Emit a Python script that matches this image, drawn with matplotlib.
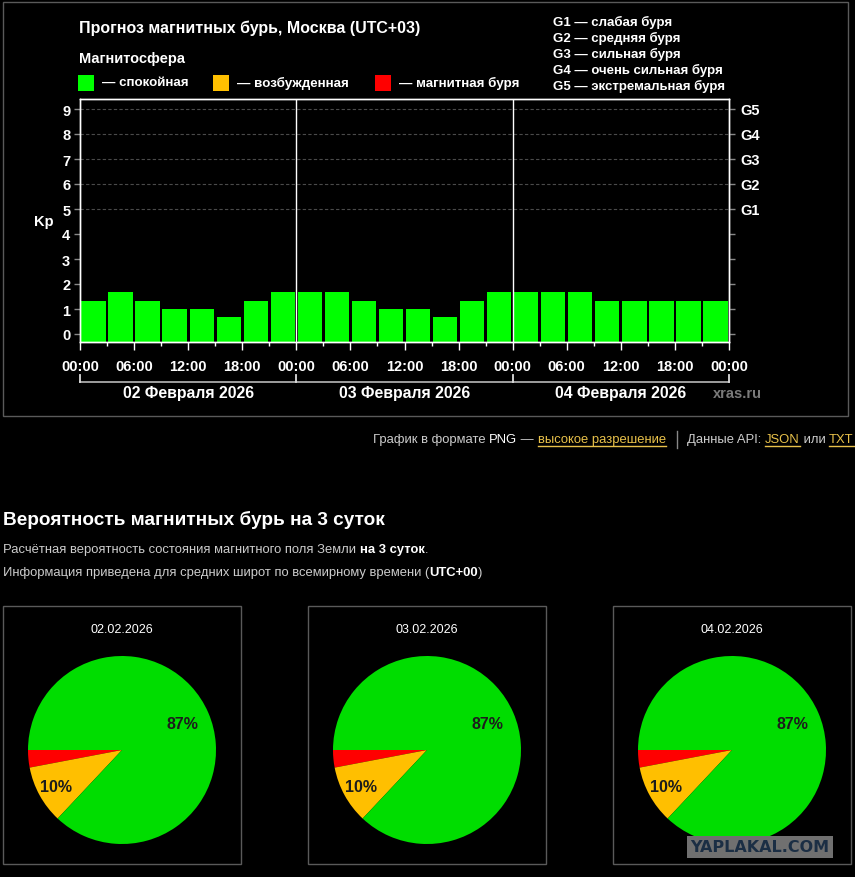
import matplotlib
matplotlib.use('Agg')
import matplotlib.pyplot as plt
from matplotlib.patches import Rectangle
from matplotlib.lines import Line2D
import matplotlib.transforms as mtransforms
import numpy as np

# ---------------- data ----------------
kp_values = [1.33, 1.67, 1.33, 1.0, 1.0, 0.67, 1.33, 1.67,
             1.67, 1.67, 1.33, 1.0, 1.0, 0.67, 1.33, 1.67,
             1.67, 1.67, 1.67, 1.33, 1.33, 1.33, 1.33, 1.33]
slot_hours = 3
time_tick_labels = ["00:00", "06:00", "12:00", "18:00"] * 3 + ["00:00"]
day_labels = ["02 Февраля 2026", "03 Февраля 2026", "04 Февраля 2026"]
kp_ticks = list(range(10))
g_labels = ["G1", "G2", "G3", "G4", "G5"]
g_descriptions = ["G1 — слабая буря", "G2 — средняя буря", "G3 — сильная буря",
                  "G4 — очень сильная буря", "G5 — экстремальная буря"]
legend_labels = ["— спокойная", "— возбужденная", "— магнитная буря"]
legend_colors = ["#00ff00", "#ffc000", "#ff0000"]
pie_dates = ["02.02.2026", "03.02.2026", "04.02.2026"]
prob_quiet = [87, 87, 87]
prob_active = [10, 10, 10]
prob_storm = [3, 3, 3]

plt.rcParams['font.family'] = ['Liberation Sans', 'DejaVu Sans']

W, H = 855, 878
fig = plt.figure(figsize=(W / 100, H / 100), dpi=100, facecolor='black')


def fx(x):
    return x / W


def fy(y):
    return 1 - y / H


def ptext(x, y, s, **kw):
    kw.setdefault('color', 'white')
    return fig.text(fx(x), fy(y), s, **kw)


renderer = fig.canvas.get_renderer()


def twidth(t):
    return t.get_window_extent(renderer).width


def segments(x, y, parts, size):
    """parts: list of (text, color, weight, underline)"""
    for s, c, w, ul in parts:
        t = ptext(x, y, s, color=c, fontweight=w, fontsize=size, ha='left', va='center')
        wd = twidth(t)
        if ul:
            fig.add_artist(Line2D([fx(x), fx(x + wd)], [fy(y + 7), fy(y + 7)],
                                  color=c, lw=1, transform=fig.transFigure))
        x += wd
    return x


# ---------------- top panel ----------------
fig.add_artist(Rectangle((fx(3), fy(417)), fx(848) - fx(3), fy(3) - fy(417),
                         transform=fig.transFigure, fill=False, edgecolor='#5a5a5a', lw=1))

ptext(79, 28, "Прогноз магнитных бурь, Москва (UTC+03)", fontsize=11.5, fontweight='bold',
      ha='left', va='center')
ptext(79, 59, "Магнитосфера", fontsize=10.5, fontweight='bold', ha='left', va='center')

legend_sq_x = [78, 213, 375]
for sx, lab, col in zip(legend_sq_x, legend_labels, legend_colors):
    fig.add_artist(Rectangle((fx(sx), fy(92)), 16 / W, 16 / H, transform=fig.transFigure,
                             facecolor=col, edgecolor='none'))
    ptext(sx + 24, 83, lab, fontsize=9.6, fontweight='bold', ha='left', va='center')

for i, s in enumerate(g_descriptions):
    ptext(553, 22 + i * 16.2, s, fontsize=9.5, fontweight='bold', ha='left', va='center')

ptext(44, 222, "Kp", fontsize=10.5, fontweight='bold', ha='center', va='center')

ax = fig.add_axes([fx(80), fy(343), 649 / W, 243 / H])
ax.set_facecolor('black')
y0, y1 = -0.32, 9.4
total_hours = slot_hours * len(kp_values)
ax.set_xlim(0, total_hours)
ax.set_ylim(y0, y1)

for v in kp_ticks[5:]:
    ax.axhline(v, color='#4a4a4a', lw=0.8, ls=(0, (3, 2)), zorder=0)

xs = np.arange(len(kp_values)) * slot_hours + slot_hours / 2
ax.bar(xs, np.array(kp_values) - y0, bottom=y0, width=slot_hours * 0.9,
       color='#00ff00', edgecolor='none', zorder=2)

for d in range(1, len(day_labels)):
    ax.axvline(d * 24, color='white', lw=1, zorder=3)

ax.set_xticks(np.arange(0, total_hours + 1, 6))
ax.set_xticklabels(time_tick_labels, fontweight='bold')
ax.set_xticks(np.arange(3, total_hours, 6), minor=True)
ax.tick_params(axis='x', which='major', length=6, width=1, color='white', pad=6,
               labelsize=10.5, labelcolor='white')
ax.tick_params(axis='x', which='minor', length=3, width=1, color='white')
ax.set_yticks(kp_ticks)
ax.set_yticklabels([str(v) for v in kp_ticks], fontweight='bold')
ax.tick_params(axis='y', length=4, width=1, color='#888888', pad=3, labelsize=10.5,
               labelcolor='white')
for sp in ax.spines.values():
    sp.set_color('white')
    sp.set_linewidth(1)

ax2 = ax.twinx()
ax2.set_ylim(y0, y1)
ax2.set_yticks(kp_ticks)
ax2.set_yticklabels([''] * 5 + g_labels, fontweight='bold')
ax2.tick_params(axis='y', length=4, width=1, color='#888888', pad=4, labelsize=10.5,
                labelcolor='white')
for sp in ax2.spines.values():
    sp.set_color('white')
    sp.set_linewidth(1)

# day bracket
btr = mtransforms.blended_transform_factory(ax.transData, fig.transFigure)
fig.add_artist(Line2D([0, total_hours], [fy(383), fy(383)], color='#aaaaaa', lw=1.3,
                      transform=btr))
for d in range(len(day_labels) + 1):
    fig.add_artist(Line2D([d * 24, d * 24], [fy(376), fy(383)], color='#dddddd', lw=1.3,
                          transform=btr))
for d, lab in enumerate(day_labels):
    fig.text(d * 24 + 12, fy(394), lab, transform=btr, color='white', fontsize=11.4,
             fontweight='bold', ha='center', va='center')
ptext(713, 394, "xras.ru", color='#7a7a7a', fontsize=10.5, fontweight='bold',
      ha='left', va='center')

# ---------------- footer links ----------------
grey = '#cccccc'
yel = '#e8c14a'
segments(373, 440, [("График в формате ", grey, 'normal', False),
                    ("PNG", 'white', 'normal', False),
                    (" — ", grey, 'normal', False),
                    ("высокое разрешение", yel, 'normal', True)], 9.35)
fig.add_artist(Line2D([fx(677), fx(677)], [fy(432), fy(449)], color='#888888', lw=1,
                      transform=fig.transFigure))
segments(687, 440, [("Данные API: ", grey, 'normal', False),
                    ("JSON", yel, 'normal', True),
                    (" или ", grey, 'normal', False),
                    ("TXT", yel, 'normal', True)], 9.35)

# ---------------- section heading ----------------
ptext(3, 520, "Вероятность магнитных бурь на 3 суток", fontsize=13.7, fontweight='bold',
      ha='left', va='center')
segments(3, 550, [("Расчётная вероятность состояния магнитного поля Земли ", grey, 'normal', False),
                  ("на 3 суток", 'white', 'bold', False),
                  (".", grey, 'normal', False)], 9.35)
segments(3, 573, [("Информация приведена для средних широт по всемирному времени (", grey, 'normal', False),
                  ("UTC+00", 'white', 'bold', False),
                  (")", grey, 'normal', False)], 9.35)

# ---------------- pies ----------------
box_left = [3, 308, 613]
pie_colors = ['#ff0000', '#ffbf00', '#00dd00']
for k in range(len(pie_dates)):
    bl = box_left[k]
    fig.add_artist(Rectangle((fx(bl), fy(865)), 238 / W, 258 / H, transform=fig.transFigure,
                             fill=False, edgecolor='#5a5a5a', lw=1))
    cx = bl + 119
    ptext(cx, 630, pie_dates[k], fontsize=9, ha='center', va='center')
    r = 94
    pax = fig.add_axes([fx(cx - r), fy(751 + r), 2 * r / W, 2 * r / H])
    vals = [prob_storm[k], prob_active[k], prob_quiet[k]]
    wedges, _ = pax.pie(vals, colors=pie_colors, startangle=180, counterclock=True,
                        wedgeprops=dict(linewidth=0), radius=1.0)
    pax.set_xlim(-1, 1)
    pax.set_ylim(-1, 1)
    pax.set_aspect('equal')
    pax.axis('off')
    for w, v, dist in zip(wedges[1:], vals[1:], [0.8, 0.7]):
        ang = np.deg2rad((w.theta1 + w.theta2) / 2)
        pax.text(dist * np.cos(ang), dist * np.sin(ang), f"{v}%", ha='center', va='center',
                 fontsize=11.5, fontweight='bold', color='#1c1c1c')

# watermark
ptext(760, 848, "YAPLAKAL.COM", fontsize=11.5, fontweight='heavy', color='#1b2e44',
      ha='center', va='center', family='DejaVu Sans',
      bbox=dict(boxstyle='square,pad=0.2', facecolor='#707070', edgecolor='none'))

fig.savefig('out.png', dpi=100, facecolor='black')
